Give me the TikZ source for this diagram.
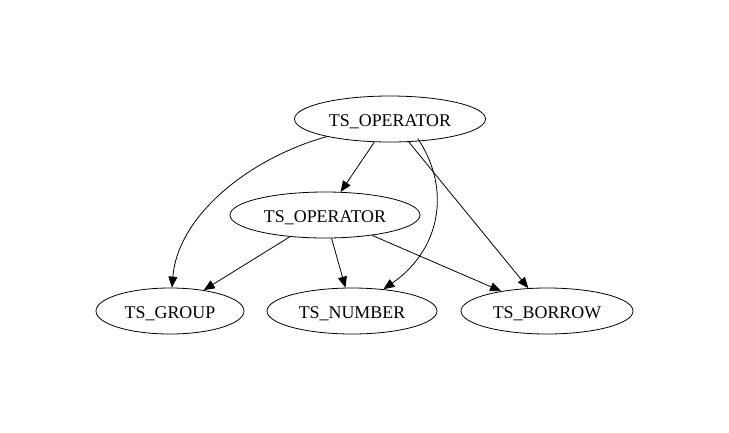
\documentclass[tikz,border=0pt]{standalone}
\usepackage{fontspec}
\setmainfont{Liberation Serif}
\usetikzlibrary{shapes.geometric, arrows.meta}
\tikzset{
  arr/.style={-{Triangle[length=11pt, width=9pt]}, line width=0.8pt, black},
  tok/.style={ellipse, draw=black, line width=0.8pt, inner sep=0pt, minimum height=46pt, text height=15pt, text depth=1pt, font=\fontsize{17.9}{20}\selectfont},
}
\begin{document}
\begin{tikzpicture}[x=1pt, y=-1pt]
  \useasboundingbox (0,0) rectangle (729,432);

  % token nodes
  \node[tok, minimum width=191pt] (opa) at (390,119) {TS\_OPERATOR};
  \node[tok, minimum width=190pt] (opb) at (325,215) {TS\_OPERATOR};
  \node[tok, minimum width=148pt] (grp) at (170,311) {TS\_GROUP};
  \node[tok, minimum width=170pt] (num) at (352,311) {TS\_NUMBER};
  \node[tok, minimum width=172pt] (bor) at (547,311) {TS\_BORROW};

  % edges
  \draw[arr] (opa) .. controls (250,158) and (178,215) .. (grp);
  \draw[arr] (opa) -- (opb);
  \draw[arr] (opa.south east) ++(-40,3) coordinate (ns) .. controls (452,190) and (440,250) .. (num);
  \draw[arr] (opa) -- (bor);
  \draw[arr] (opb) -- (grp);
  \draw[arr] (opb) -- (num);
  \draw[arr] (opb) -- (bor);
\end{tikzpicture}
\end{document}
